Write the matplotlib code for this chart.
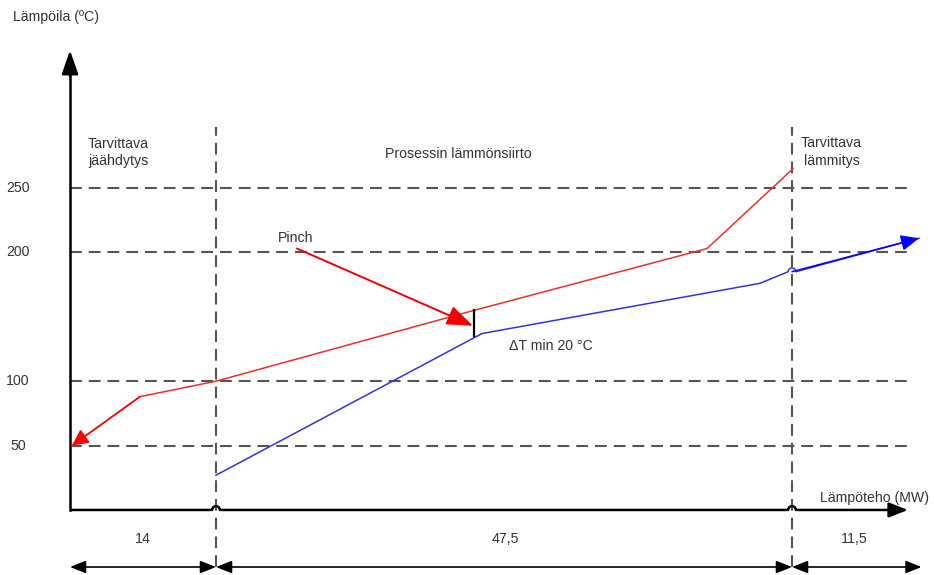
import matplotlib
matplotlib.use("Agg")
import matplotlib.pyplot as plt
import numpy as np

plt.rcParams['font.family'] = ['Liberation Sans', 'DejaVu Sans']
plt.rcParams['lines.scale_dashes'] = False

# Hot composite curve: schematic heat position and temperature (°C)
hot_q = [0.2, 7.0, 14.6, 40.4, 63.7, 72.3]
hot_t = [50, 88, 100, 155, 203, 265]

# Cold composite curve
cold_q = [14.6, 41.2, 69.0, 72.2, 84.9]
cold_t = [27, 137, 176, 185, 211]

# Temperature reference levels on the vertical axis
temp_levels = [50, 100, 200, 250]
temp_labels = ['50', '100', '200', '250']

# Zone borders along the heat axis and the heat loads of each zone (MW)
zone_edges = [0.0, 14.6, 72.2, 84.8]
zone_loads = ['14', '47,5', '11,5']

# Pinch point and minimum temperature difference
pinch_q = 40.4
pinch_hot = 155
pinch_cold = 135

TXT = '#333333'
DASH = '#555555'

fig = plt.figure(figsize=(9.34, 5.75), dpi=100)
ax = fig.add_axes([0, 0, 1, 1])
ax.set_xlim(-7, 86.4)
ax.set_ylim(-50.5, 396)
ax.axis('off')

x_end = 83.8
y_top = 357
rx, ry = 0.38, 3.0  # size of the small line-jump arcs


def jump_path(x0, x1, y, bumps):
    """Horizontal line from x0 to x1 at height y with small arcs at bumps."""
    xs, ys = [x0], [y]
    th = np.linspace(0, np.pi, 15)
    for c in bumps:
        xs += list(c - rx * np.cos(th))
        ys += list(y + ry * np.sin(th))
    xs.append(x1)
    ys.append(y)
    return xs, ys


# Dashed horizontal temperature levels
for t in temp_levels:
    ax.plot([0, 84.0], [t, t], color=DASH, lw=1.5, dashes=(8.5, 5), zorder=1)

# Dashed vertical zone borders
for xb in zone_edges[1:3]:
    ax.plot([xb, xb], [-44, 297], color=DASH, lw=1.5, dashes=(8.5, 5), zorder=1)

# Axes lines with arrowheads
xs, ys = jump_path(0, x_end - 1.0, 0, zone_edges[1:3])
ax.plot(xs, ys, color='black', lw=1.8, zorder=3, solid_capstyle='butt')
ax.annotate('', xy=(x_end, 0), xytext=(x_end - 1.5, 0),
            arrowprops=dict(arrowstyle='-|>,head_length=1.15,head_width=0.45',
                            color='black', lw=1.8, mutation_scale=10,
                            shrinkA=0, shrinkB=0), zorder=3)
ax.plot([0, 0], [0, y_top - 10], color='black', lw=1.8, zorder=3)
ax.annotate('', xy=(0, y_top), xytext=(0, y_top - 20),
            arrowprops=dict(arrowstyle='-|>,head_length=1.45,head_width=0.5',
                            color='black', lw=1.8, mutation_scale=10,
                            shrinkA=0, shrinkB=0), zorder=3)

# Hot composite curve with arrow at the cold end
ax.plot(hot_q, hot_t, color='#e8302c', lw=1.1, zorder=4)
ax.annotate('', xy=(hot_q[0], hot_t[0]), xytext=(hot_q[1], hot_t[1]),
            arrowprops=dict(arrowstyle='-|>,head_length=1.0,head_width=0.5',
                            color='#ff0000', lw=1.1, mutation_scale=10,
                            shrinkA=0, shrinkB=0), zorder=4)

# Cold composite curve with a small jump over the zone border
bx = zone_edges[2]
cq, ct = [], []
for q, t in zip(cold_q, cold_t):
    if q == bx:
        th = np.linspace(0, np.pi, 15)
        cq += list(bx - rx * np.cos(th))
        ct += list(t + ry * np.sin(th))
    else:
        cq.append(q)
        ct.append(t)
ax.plot(cq, ct, color='#3333dd', lw=1.1, zorder=4)
ax.annotate('', xy=(cold_q[-1], cold_t[-1]), xytext=(cold_q[-2], cold_t[-2]),
            arrowprops=dict(arrowstyle='-|>,head_length=1.1,head_width=0.48',
                            color='#0000ff', lw=1.1, mutation_scale=10,
                            shrinkA=0, shrinkB=0), zorder=4)

# Pinch marker and minimum temperature difference bar
ax.annotate('', xy=(pinch_q - 0.1, 143), xytext=(22.7, 203),
            arrowprops=dict(arrowstyle='-|>,head_length=1.6,head_width=0.6',
                            color='#ee0000', lw=1.4, mutation_scale=10,
                            shrinkA=0, shrinkB=0), zorder=5)
ax.plot([pinch_q, pinch_q], [pinch_cold, pinch_hot], color='black', lw=1.6, zorder=5)

# Heat-load dimension arrows under the axis
for a, b, lab in zip(zone_edges[:-1], zone_edges[1:], zone_loads):
    ax.annotate('', xy=(b + (0.35 if b > 80 else 0), -44.3), xytext=(a, -44.3),
                arrowprops=dict(arrowstyle='<|-|>,head_length=0.95,head_width=0.38',
                                color='black', lw=1.2, mutation_scale=10,
                                shrinkA=0, shrinkB=0), zorder=3)

# Texts
fs = 10.2
ax.text(-5.7, 382.5, 'Lämpöila (ºC)', fontsize=fs, color=TXT, ha='left', va='center')
for t, lab in zip(temp_levels, temp_labels):
    ax.text(-5.2, t, lab, fontsize=fs, color=TXT, ha='center', va='center')

ax.text(1.8, 284, 'Tarvittava', fontsize=fs, color=TXT, ha='left', va='center')
ax.text(1.8, 271, 'jäähdytys', fontsize=fs, color=TXT, ha='left', va='center')
ax.text(38.8, 276.5, 'Prosessin lämmönsiirto', fontsize=fs, color=TXT,
        ha='center', va='center')
ax.text(76.1, 285, 'Tarvittava', fontsize=fs, color=TXT, ha='center', va='center')
ax.text(76.2, 271, 'lämmitys', fontsize=fs, color=TXT, ha='center', va='center')
ax.text(20.8, 211.5, 'Pinch', fontsize=fs, color=TXT, ha='left', va='center')
ax.text(43.9, 127.5, 'ΔT min 20 °C', fontsize=fs, color=TXT, ha='left', va='center')
ax.text(80.5, 9.3, 'Lämpöteho (MW)', fontsize=fs, color=TXT, ha='center', va='center')

load_x = [7.3, 43.5, 78.4]
for xl, lab in zip(load_x, zone_loads):
    ax.text(xl, -22.5, lab, fontsize=fs, color=TXT, ha='center', va='center')

fig.savefig('out.png', dpi=100)
